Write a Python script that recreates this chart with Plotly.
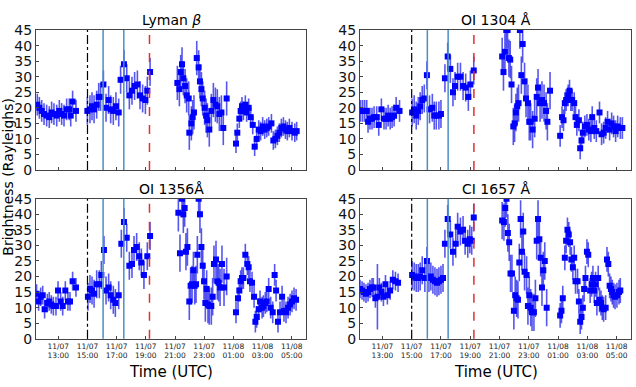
import pandas as pd
import plotly.graph_objects as go

BASE = pd.Timestamp("2023-11-07")

panel_titles = ["Lyman <i>β</i>", "OI 1304 Å", "OI 1356Å", "CI 1657 Å"]

# ---- Lyman beta (hours since 11/07 00:00 UTC) ----
lyb_hours = [11.56, 11.70, 11.86, 12.02, 12.20, 12.38, 12.54, 12.70, 12.89, 13.07, 13.23, 13.39, 13.57, 13.75, 13.85, 13.98, 14.21,
             14.99, 15.17, 15.31, 15.45, 15.63, 15.77, 15.90, 16.09, 16.27, 16.45, 16.59, 16.77, 16.95, 17.14, 17.27, 17.50, 17.69, 17.87, 18.05, 18.23, 18.42, 18.60, 18.78, 18.97, 19.10, 19.29,
             21.16, 21.30, 21.39, 21.48, 21.57, 21.69, 21.80, 21.94, 21.98, 22.12, 22.21, 22.30, 22.49, 22.62, 22.71, 22.81, 22.90, 23.03, 23.13, 23.22, 23.35, 23.49, 23.63, 23.77, 23.90, 24.04, 24.18, 24.31, 24.54,
             25.18, 25.27, 25.41, 25.50, 25.59, 25.69, 25.82, 25.91, 26.05, 26.19, 26.33, 26.46, 26.60, 26.74, 26.87, 27.01, 27.15, 27.29, 27.42, 27.61, 27.74, 27.88, 28.02, 28.15, 28.29, 28.43, 28.57, 28.70, 28.84, 29.02, 29.21, 29.34]
lyb_vals = [21, 20, 19, 18, 17.5, 17, 18.5, 18, 17.5, 19, 18, 17.5, 19.5, 19.5, 17.5, 22, 19,
            19, 19.5, 20.5, 19.5, 21, 23.5, 23.5, 27.5, 20, 22.5, 19.5, 19, 20.5, 18.5, 29, 34, 29.5, 24, 25.5, 27, 27.5, 24, 23, 22.5, 25.5, 31.5,
            28, 26, 31.5, 34, 29.5, 27, 24, 23, 12, 15, 17, 18.5, 36, 33, 28.5, 26, 23, 20, 17.5, 16, 13, 19, 22.5, 21, 20.5, 18, 18.5, 13.5, 23,
            8.5, 12, 16.5, 19, 20.5, 19, 21, 18.5, 20, 17, 14.5, 7.5, 10, 13, 12.5, 14, 13, 13.5, 14, 15, 9.5, 10, 11, 12, 13.5, 14, 13, 12.5, 13.5, 12.5, 12, 12.5]
lyb_err = [3.5] * 17 + [4.5] * 26 + [5.5] * 29 + [3.0] * 32

# ---- OI 1304 ----
o1304_hours = [11.51, 11.65, 11.79, 11.93, 12.02, 12.15, 12.29, 12.43, 12.61, 12.75, 12.93, 13.11, 13.25, 13.39, 13.53, 13.66, 13.80, 13.94, 14.17,
               15.03, 15.17, 15.31, 15.45, 15.58, 15.72, 15.86, 16.04, 16.22, 16.41, 16.54, 16.68, 16.86, 17.00, 17.27, 17.46, 17.64, 17.82, 17.96, 18.14, 18.33, 18.51, 18.69, 18.87, 19.01, 19.24,
               21.18, 21.27, 21.37, 21.46, 21.55, 21.64, 21.73, 21.82, 21.94, 22.03, 22.12, 22.21, 22.30, 22.39, 22.49, 22.58, 22.71, 22.81, 22.94, 23.03, 23.13, 23.26, 23.40, 23.54, 23.63, 23.77, 23.90, 24.04, 24.18, 24.27, 24.45,
               25.14, 25.27, 25.37, 25.46, 25.55, 25.69, 25.78, 25.87, 25.96, 26.10, 26.19, 26.28, 26.42, 26.51, 26.60, 26.69, 26.83, 26.97, 27.10, 27.24, 27.33, 27.47, 27.61, 27.83, 27.97, 28.11, 28.25, 28.38, 28.52, 28.66, 28.79, 28.93, 29.07, 29.25, 29.39]
o1304_vals = [19, 19, 19, 19, 15.5, 16.5, 16.5, 17, 17, 14.5, 19.5, 16.5, 16.5, 17.5, 16.5, 17, 17.5, 20, 19,
              18.5, 19.5, 17.5, 19, 20.5, 22.5, 23, 30.5, 19.5, 20, 17.5, 17.5, 17.5, 18, 29.5, 36.5, 32.5, 25, 27, 30, 30, 27, 26.5, 23.5, 27.5, 32,
              36.5, 31.5, 38, 45, 45, 36, 35.5, 27.5, 14, 15, 18.5, 20.5, 21.5, 45, 30.5, 40.5, 28.5, 23, 21.5, 15.5, 15.5, 13, 16.5, 23.5, 26.5, 21.5, 22.5, 21.5, 19, 15.5, 25.5,
              11, 17, 16, 21.5, 22.5, 24, 25.5, 22.5, 22.5, 21.5, 17, 14.5, 16, 7, 9.5, 12, 14, 14.5, 13, 12.5, 17, 13.5, 12.5, 18.5, 11.5, 12, 13.5, 15.5, 13, 15, 14, 12.5, 14, 13.5, 13.5]
o1304_err = [3.5] * 19 + [4.5] * 26 + [6.0] * 31 + [3.5] * 35

# ---- OI 1356 ----
o1356_hours = [11.51, 11.65, 11.79, 11.93, 12.06, 12.25, 12.38, 12.52, 12.66, 12.84, 12.98, 13.16, 13.30, 13.48, 13.66, 13.80, 13.98, 14.21,
               15.03, 15.17, 15.31, 15.45, 15.63, 15.81, 15.95, 16.13, 16.27, 16.45, 16.59, 16.77, 16.91, 17.14, 17.32, 17.50, 17.69, 17.87, 18.05, 18.19, 18.37, 18.55, 18.69, 18.87, 19.10, 19.29,
               21.23, 21.34, 21.48, 21.57, 21.66, 21.75, 21.85, 21.98, 22.07, 22.17, 22.26, 22.35, 22.44, 22.53, 22.62, 22.71, 22.81, 22.90, 22.99, 23.08, 23.17, 23.26, 23.35, 23.49, 23.58, 23.67, 23.81, 23.90, 23.99, 24.09, 24.22, 24.36, 24.54,
               25.18, 25.32, 25.41, 25.50, 25.59, 25.69, 25.82, 25.96, 26.05, 26.14, 26.28, 26.42, 26.51, 26.60, 26.74, 26.83, 26.97, 27.06, 27.19, 27.29, 27.42, 27.56, 27.70, 27.83, 27.93, 28.06, 28.20, 28.34, 28.47, 28.61, 28.75, 28.89, 29.02, 29.16, 29.30]
o1356_vals = [14.5, 12, 13.5, 14, 9.5, 11.5, 12, 11, 10.5, 10.5, 15.5, 12, 10.5, 15.5, 12, 12, 18.5, 16.5,
              13.5, 16, 15.5, 14.5, 17.5, 17.5, 20.5, 28.5, 15.5, 16.5, 14, 12.5, 11.5, 14, 30.5, 37.5, 32.5, 23.5, 24, 28.5, 29.5, 26.5, 24.5, 20.5, 26.5, 33,
              40.5, 27.5, 45, 40, 42, 28, 29.5, 12, 17, 17.5, 22, 17, 17.5, 27, 45, 40, 29.5, 23.5, 18.5, 11.5, 16, 11, 10.5, 10.5, 13.5, 24, 25.5, 18.5, 18, 16.5, 24, 16.5, 20,
              8.5, 13, 15.5, 18.5, 19.5, 19.5, 27, 24, 23, 18.5, 18, 13.5, 5.5, 7, 9.5, 12, 10, 10.5, 11.5, 12, 16, 10, 8.5, 20.5, 15.5, 5.5, 8.5, 13.5, 9, 8.5, 10, 11, 12, 13, 12.5]
o1356_err = [3.0] * 18 + [4.5] * 26 + [6.0] * 33 + [3.5] * 35

# ---- CI 1657 ----
c1657_hours = [11.47, 11.61, 11.74, 11.88, 12.02, 12.15, 12.29, 12.38, 12.52, 12.66, 12.79, 12.93, 13.07, 13.21, 13.34, 13.53, 13.71, 13.89, 14.07,
               15.03, 15.17, 15.31, 15.45, 15.58, 15.72, 15.90, 16.04, 16.18, 16.31, 16.45, 16.59, 16.73, 16.86, 17.00, 17.14, 17.27, 17.46, 17.64, 17.82, 18.01, 18.14, 18.33, 18.51, 18.65, 18.83, 18.97, 19.10, 19.24,
               21.18, 21.30, 21.39, 21.48, 21.57, 21.66, 21.75, 21.85, 21.98, 22.07, 22.17, 22.26, 22.35, 22.44, 22.53, 22.62, 22.71, 22.85, 22.94, 23.03, 23.13, 23.22, 23.35, 23.45, 23.54, 23.63, 23.72, 23.81, 23.90, 23.99, 24.09, 24.22,
               25.14, 25.23, 25.32, 25.46, 25.55, 25.64, 25.73, 25.82, 25.91, 26.01, 26.10, 26.19, 26.33, 26.42, 26.51, 26.60, 26.69, 26.78, 26.87, 26.97, 27.06, 27.19, 27.29, 27.38, 27.47, 27.56, 27.65, 27.74, 27.83, 27.93, 28.02, 28.11, 28.25, 28.34, 28.43, 28.52, 28.61, 28.70, 28.79, 28.89, 29.02, 29.16, 29.25]
c1657_vals = [16, 15.5, 15, 14.5, 15, 16, 16.5, 16.5, 13, 13.5, 16.5, 15, 13.5, 17.5, 14, 15.5, 19, 18.5, 18,
              20.5, 20, 19.5, 19.5, 20, 22, 19.5, 25, 19.5, 20, 19, 18.5, 18, 18.5, 19, 19.5, 30.5, 38.5, 33.5, 28, 30.5, 36, 34.5, 35, 31.5, 30.5, 32, 31.5, 39,
              38, 37.5, 42, 45, 34, 31, 21, 21, 9, 14, 13, 12.5, 24.5, 38.5, 28, 34.5, 21.5, 20.5, 10.5, 14, 10, 8.5, 8.5, 13, 31.5, 38.5, 32, 26, 16.5, 22, 25, 10,
              7.5, 9, 13, 26, 31.5, 35, 33.5, 31, 25.5, 23, 26, 18.5, 18.5, 12, 5.5, 7, 10, 16, 19.5, 28, 27, 15.5, 17.5, 19.5, 15.5, 17.5, 11.5, 19.5, 12.5, 11.5, 10, 9.5, 10, 25.5, 24, 17, 16, 15, 14, 13.5, 14, 15, 15.5]
c1657_err = [3.0] * 9 + [10.5] + [3.0] * 9 + [4.5] * 29 + [6.0] * 32 + [4.0] * 43

panels = [
    (lyb_hours, lyb_vals, lyb_err),
    (o1304_hours, o1304_vals, o1304_err),
    (o1356_hours, o1356_vals, o1356_err),
    (c1657_hours, c1657_vals, c1657_err),
]

# event markers (hours since 11/07 00:00)
event_dashdot = [15.0]
event_solid = [16.07, 17.49]
event_dashed = [19.25]

tick_hours = [13, 15, 17, 19, 21, 23, 25, 27, 29]
tick_labels = ["11/07<br>13:00", "11/07<br>15:00", "11/07<br>17:00", "11/07<br>19:00", "11/07<br>21:00",
               "11/07<br>23:00", "11/08<br>01:00", "11/08<br>03:00", "11/08<br>05:00"]
x_range_hours = [11.47, 29.98]
y_ticks = [0, 5, 10, 15, 20, 25, 30, 35, 40, 45]
y_range = [0, 45]


def to_time(hours):
    return BASE + pd.to_timedelta(pd.Series(hours, dtype=float), unit="h")


W, H = 636, 387
x_doms = [[36 / W, 306 / W], [360 / W, 631 / W]]
y_doms = [[1 - 169 / H, 1 - 23 / H], [1 - 345 / H, 1 - 199 / H]]

FONT = "DejaVu Sans"
fig = go.Figure()
layout = dict(
    width=W, height=H, margin=dict(l=0, r=0, t=0, b=0),
    paper_bgcolor="white", plot_bgcolor="white",
    showlegend=False, font=dict(family=FONT, color="black"),
)
shapes = []
annotations = []

for i, (hrs, vals, errs) in enumerate(panels):
    r, c = divmod(i, 2)
    sfx = "" if i == 0 else str(i + 1)
    xa, ya = "x" + sfx, "y" + sfx
    fig.add_trace(go.Scatter(
        x=to_time(hrs), y=vals, mode="markers",
        marker=dict(symbol="square", size=6, color="#0000ff"),
        error_y=dict(type="data", array=errs, visible=True, width=0, thickness=1.6,
                     color="rgba(30,30,235,0.75)"),
        xaxis=xa, yaxis=ya, cliponaxis=True,
    ))
    layout["xaxis" + sfx] = dict(
        domain=x_doms[c], anchor=ya, type="date",
        range=list(to_time(x_range_hours)),
        tickvals=list(to_time(tick_hours)), ticktext=tick_labels,
        showticklabels=(r == 1), ticks="inside", ticklen=3, tickwidth=1, tickcolor="#444",
        tickfont=dict(size=7.5, color="#222", family=FONT),
        showline=True, linecolor="#444", linewidth=1, mirror=True,
        showgrid=False, zeroline=False,
    )
    layout["yaxis" + sfx] = dict(
        domain=y_doms[r], anchor=xa, range=y_range, tickvals=y_ticks,
        ticks="inside", ticklen=3, tickwidth=1, tickcolor="#444",
        tickfont=dict(size=14, color="#111", family=FONT),
        showline=True, linecolor="#444", linewidth=1, mirror=True,
        showgrid=False, zeroline=False,
    )
    for t in event_dashdot:
        shapes.append(dict(type="line", xref=xa, yref=ya + " domain", x0=to_time([t])[0], x1=to_time([t])[0],
                           y0=0, y1=1, line=dict(color="black", width=1.2, dash="dashdot")))
    for t in event_solid:
        shapes.append(dict(type="line", xref=xa, yref=ya + " domain", x0=to_time([t])[0], x1=to_time([t])[0],
                           y0=0, y1=1, line=dict(color="#4a8fc4", width=1.5)))
    for t in event_dashed:
        shapes.append(dict(type="line", xref=xa, yref=ya + " domain", x0=to_time([t])[0], x1=to_time([t])[0],
                           y0=0, y1=1, line=dict(color="#e03030", width=1.5, dash="dash")))
    annotations.append(dict(
        text=panel_titles[i], xref="paper", yref="paper",
        x=(x_doms[c][0] + x_doms[c][1]) / 2, y=y_doms[r][1], xanchor="center", yanchor="bottom",
        yshift=0, showarrow=False, font=dict(size=14, family=FONT, color="black"),
    ))
    if r == 1:
        annotations.append(dict(
            text="Time (UTC)", xref="paper", yref="paper",
            x=(x_doms[c][0] + x_doms[c][1]) / 2, y=1 - 380 / H, xanchor="center", yanchor="middle",
            showarrow=False, font=dict(size=15, family=FONT, color="black"),
        ))

annotations.append(dict(
    text="Brightness (Rayleighs)", xref="paper", yref="paper", x=8 / W, y=1 - 176 / H,
    xanchor="center", yanchor="middle", textangle=-90, showarrow=False,
    font=dict(size=14, family=FONT, color="black"),
))

layout["shapes"] = shapes
layout["annotations"] = annotations
fig.update_layout(**layout)
fig.write_html("out.html")
